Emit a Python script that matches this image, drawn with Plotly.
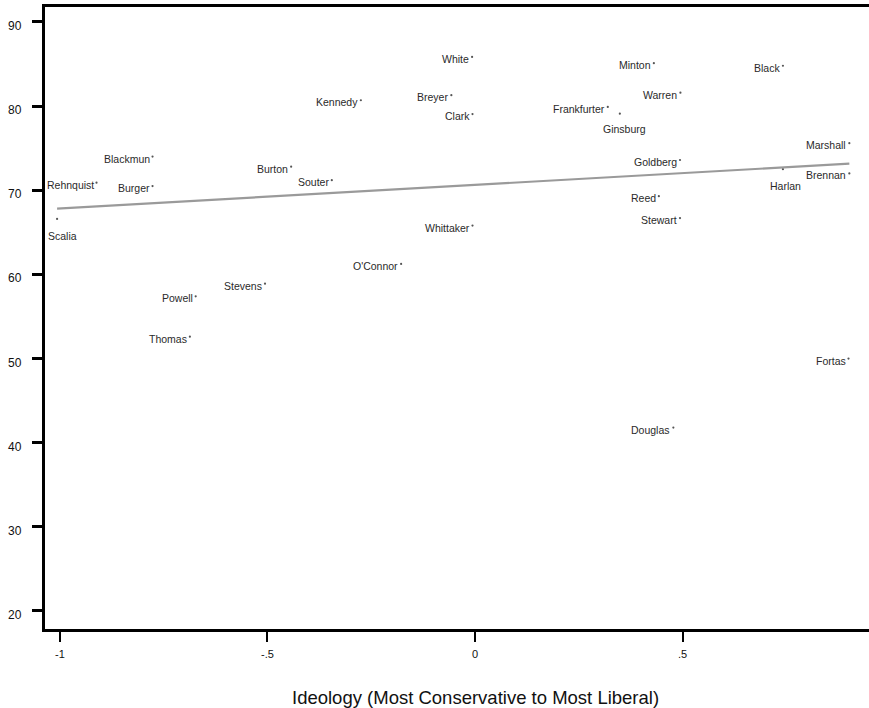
import numpy as np
import plotly.graph_objects as go

# ---- data ----
justices = ["White", "Minton", "Black", "Warren", "Frankfurter", "Ginsburg", "Breyer",
            "Clark", "Kennedy", "Souter", "Burton", "Whittaker", "O'Connor", "Stevens",
            "Powell", "Thomas", "Blackmun", "Burger", "Rehnquist", "Scalia", "Goldberg",
            "Marshall", "Harlan", "Brennan", "Reed", "Stewart", "Fortas", "Douglas"]
ideology = [-0.007, 0.431, 0.742, 0.495, 0.320, 0.349, -0.057,
            -0.006, -0.275, -0.345, -0.443, -0.006, -0.178, -0.506,
            -0.673, -0.687, -0.777, -0.777, -0.912, -1.007, 0.494,
            0.902, 0.742, 0.902, 0.443, 0.494, 0.900, 0.478]
score = [85.85, 85.1, 84.8, 81.6, 79.9, 79.1, 81.3,
         79.05, 80.7, 71.2, 72.8, 65.8, 61.25, 58.9,
         57.4, 52.6, 74.0, 70.5, 70.9, 66.6, 73.6,
         75.6, 72.5, 72.0, 69.3, 66.7, 50.0, 41.8]

x_tickvals = [-1, -0.5, 0, 0.5]
x_ticktext = ["-1", "-.5", "0", ".5"]
y_tickvals = [20, 30, 40, 50, 60, 70, 80, 90]
x_title = "Ideology (Most Conservative to Most Liberal)"

# label placement style (default: left of the point)
below_labels = {"Scalia": (5, 17), "Ginsburg": (5, 15), "Harlan": (3, 17)}

FONT = "Liberation Sans, Arial, Helvetica, sans-serif"

# ---- linear fit ----
xa = np.array(ideology)
ya = np.array(score)
slope, intercept = np.polyfit(xa, ya, 1)
fit_x = np.array([xa.min(), xa.max()])
fit_y = intercept + slope * fit_x

fig = go.Figure()
fig.add_trace(go.Scatter(x=fit_x, y=fit_y, mode="lines",
                         line=dict(color="#9a9a9a", width=2.2),
                         hoverinfo="skip", showlegend=False))
fig.add_trace(go.Scatter(x=ideology, y=score, mode="markers",
                         marker=dict(size=2.2, color="#555555"),
                         text=justices, showlegend=False))

annotations = []
for name, xv, yv in zip(justices, ideology, score):
    if name in below_labels:
        dx, dy = below_labels[name]
        annotations.append(dict(x=xv, y=yv, xref="x", yref="y", text=name,
                                showarrow=False, xanchor="center", yanchor="middle",
                                xshift=dx, yshift=-dy,
                                font=dict(family=FONT, size=10.5, color="#2a2a2a")))
    else:
        annotations.append(dict(x=xv, y=yv, xref="x", yref="y", text=name,
                                showarrow=False, xanchor="right", yanchor="middle",
                                xshift=-1, yshift=-2,
                                font=dict(family=FONT, size=10.5, color="#2a2a2a")))

# y tick labels (Stata-style, sitting slightly below their ticks)
for tv in y_tickvals:
    annotations.append(dict(x=0, y=tv, xref="paper", yref="y", text=str(tv),
                            showarrow=False, xanchor="right", yanchor="middle",
                            xshift=-21, yshift=-4,
                            font=dict(family=FONT, size=12, color="#111111")))

annotations.append(dict(x=0.523, y=0, xref="paper", yref="paper", text=x_title,
                        showarrow=False, xanchor="center", yanchor="middle",
                        yshift=-68, font=dict(family=FONT, size=18.5, color="#111111")))

fig.update_layout(
    width=869, height=708,
    margin=dict(l=45, r=0, t=7, b=79, autoexpand=False),
    paper_bgcolor="white", plot_bgcolor="white",
    font=dict(family=FONT, size=11, color="#111111"),
    annotations=annotations,
    showlegend=False,
)
fig.update_xaxes(range=[-1.0361, 0.9494], tickvals=x_tickvals, ticktext=x_ticktext,
                 automargin=False,
                 showgrid=False, zeroline=False, showline=True, linecolor="black",
                 linewidth=3, mirror=True, ticks="outside", ticklen=10, tickwidth=2,
                 tickcolor="black", tickfont=dict(size=11, family=FONT, color="#111"),
                 ticklabelstandoff=3)
fig.update_yaxes(range=[17.86, 91.78], tickvals=y_tickvals, showticklabels=False,
                 automargin=False,
                 showgrid=False, zeroline=False, showline=True, linecolor="black",
                 linewidth=3, mirror=False, ticks="outside", ticklen=10, tickwidth=3,
                 tickcolor="black")

fig.write_html("out.html", config={"displayModeBar": False},
               post_script="document.body.style.margin='0px';document.body.style.overflow='hidden';")
